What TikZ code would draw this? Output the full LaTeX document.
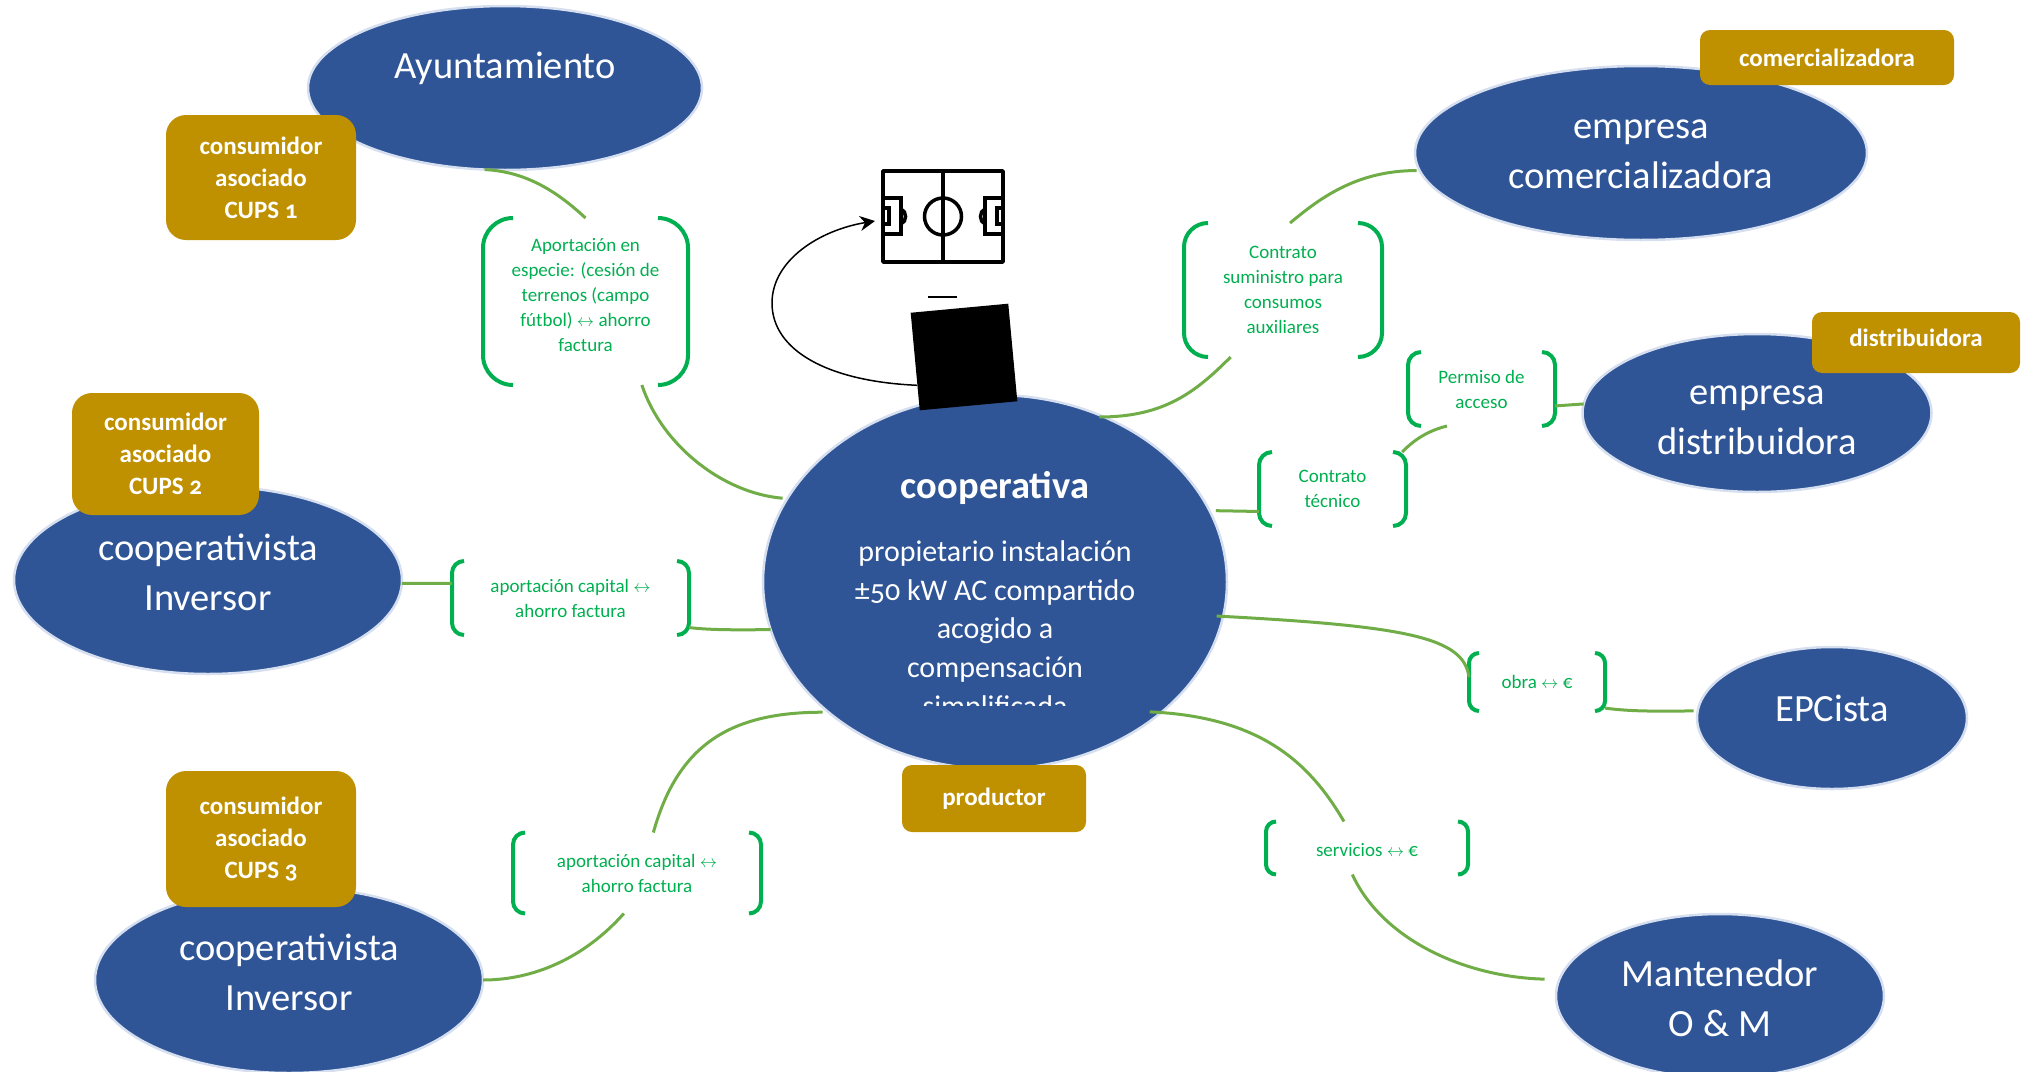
\documentclass[tikz,border=0pt]{standalone}
\usepackage{fontspec}
\setmainfont[Numbers=OldStyle]{Carlito}
\usetikzlibrary{shapes.geometric,arrows.meta}

\definecolor{bubbleblue}{HTML}{2F5597}
\definecolor{bubbleedge}{HTML}{D6DFF0}
\definecolor{gold}{HTML}{BF9000}
\definecolor{bracketgreen}{HTML}{00B050}
\definecolor{linkgreen}{HTML}{70AD47}

\tikzset{
bubble/.style={ellipse,fill=bubbleblue,draw=bubbleedge,line width=2.5pt,inner sep=0pt,outer sep=0pt},
bubbletext/.style={text=white,align=center,font=\fontsize{38.5}{50}\selectfont},
tagbox/.style={fill=gold,text=white,align=center,rounded corners=#1,inner sep=0pt,font=\fontsize{25}{32}\selectfont\bfseries},
deal/.style={fill=white,text=bracketgreen,align=center,inner sep=0pt,outer sep=0pt,font=\fontsize{19}{25}\selectfont},
drop/.style={execute at begin node={\rule{0pt}{#1}}},
rise/.style={execute at end node={\rule[-#1]{0pt}{0pt}}},
bracket/.style={draw=bracketgreen,line width=4pt},
link/.style={draw=linkgreen,line width=3pt},
pitch/.style={line width=3.5pt}
}

\newcommand{\dealbrackets}[2]{
\draw[bracket,rounded corners=#2] ([xshift=#2]#1.north west) -- (#1.north west) -- (#1.south west) -- ([xshift=#2]#1.south west);
\draw[bracket,rounded corners=#2] ([xshift=-#2]#1.north east) -- (#1.north east) -- (#1.south east) -- ([xshift=-#2]#1.south east);
}

\begin{document}
\begin{tikzpicture}[x=1pt,y=-1pt]
\useasboundingbox (0,0) rectangle (2029,1071);

\node[bubble,minimum width=394pt,minimum height=164pt] (ayto) at (505,88) {};
\node[bubble,minimum width=452pt,minimum height=174pt] (comer) at (1641,153) {};
\node[bubble,minimum width=349pt,minimum height=158pt] (distri) at (1757,413) {};
\node[bubble,minimum width=270pt,minimum height=142pt] (epc) at (1832,718) {};
\node[bubble,minimum width=328pt,minimum height=164pt] (mante) at (1720,996) {};
\node[bubble,minimum width=388pt,minimum height=188pt] (socio1) at (208,580) {};
\node[bubble,minimum width=388pt,minimum height=186pt] (socio2) at (289,980) {};
\node[bubble,minimum width=464pt,minimum height=374pt] (coop) at (995,582) {};

\node[bubbletext] (aytotxt) at ([yshift=20pt]ayto.center) {Ayuntamiento};
\node[bubbletext] (comertxt) at ([yshift=-1pt]comer.center) {empresa\\comercializadora};
\node[bubbletext] (distritxt) at ([yshift=-7pt]distri.center) {empresa\\distribuidora};
\node[bubbletext] (epctxt) at ([yshift=10pt]epc.center) {EPCista};
\node[bubbletext] (mantetxt) at ([yshift=-2pt]mante.center) {Mantenedor\\O \& M};
\node[bubbletext] (socio1txt) at ([yshift=8pt]socio1.center) {cooperativista\\Inversor};
\node[bubbletext] (socio2txt) at ([yshift=8pt]socio2.center) {cooperativista\\Inversor};

\node[text=white,font=\fontsize{38.5}{44}\selectfont\bfseries] (cooptitle) at (995,488) {cooperativa};
\begin{scope}
\clip (800,520) rectangle (1200,705);
\node[text=white,align=center,font=\fontsize{30}{38.7}\selectfont,anchor=north] (cooptxt) at (995,537) {propietario instalación\\±50 kW AC compartido\\acogido a\\compensación\\simplificada};
\end{scope}

\node[deal,rise=13pt,minimum width=205pt,minimum height=167pt] (especie) at (585.5,301.5) {Aportación en\\especie: (cesión de\\terrenos (campo\\fútbol) $\leftrightarrow$ ahorro\\factura};
\node[deal,drop=20pt,minimum width=198pt,minimum height=134pt] (suministro) at (1283,290) {Contrato\\suministro para\\consumos\\auxiliares};
\node[deal,drop=21pt,minimum width=147pt,minimum height=74pt] (permiso) at (1481.5,389) {Permiso de\\acceso};
\node[deal,drop=23pt,minimum width=147pt,minimum height=74pt] (tecnico) at (1332.5,489) {Contrato\\técnico};
\node[deal,drop=23pt,minimum width=237pt,minimum height=74pt] (capital1) at (570.5,598) {aportación capital $\leftrightarrow$\\ahorro factura};
\node[deal,minimum width=136pt,minimum height=58pt] (obra) at (1537,682) {obra $\leftrightarrow$ €};
\node[deal,drop=18pt,minimum width=202pt,minimum height=53pt] (servicios) at (1367,848) {servicios $\leftrightarrow$ €};
\node[deal,drop=20pt,minimum width=248pt,minimum height=81pt] (capital2) at (637,873) {aportación capital $\leftrightarrow$\\ahorro factura};

\dealbrackets{especie}{30pt}
\dealbrackets{suministro}{24pt}
\dealbrackets{permiso}{13pt}
\dealbrackets{tecnico}{13pt}
\dealbrackets{capital1}{12pt}
\dealbrackets{obra}{10pt}
\dealbrackets{servicios}{10pt}
\dealbrackets{capital2}{12pt}

\draw[link] (ayto.256.8) .. controls +(40,2) and +(-30,-28) .. (especie.north);
\draw[link] (especie.304.2) .. controls +(20,60) and +(-60,-5) .. ([xshift=-5pt]coop.158.4);
\draw[link] ([xshift=-2pt,yshift=-2pt]comer.184.6) .. controls +(-60,0) and +(30,-25) .. (suministro.84);
\draw[link] (suministro.232.7) .. controls +(-35,35) and +(65,0) .. ([yshift=-2pt]coop.58);
\draw[link] (tecnico.197.4) -- ([xshift=4pt,yshift=5pt]coop.17.3);
\draw[link] (permiso.347) -- (distri.177.4);
\draw[link] (tecnico.28) .. controls +(12,-12) and +(-20,5) .. (permiso.227);
\draw[link] ([xshift=-6pt,yshift=2pt]coop.351.3) .. controls +(190,10) and +(-5,-40) .. (obra.176.6);
\draw[link] (obra.339) .. controls +(30,4) and +(-30,0) .. ([xshift=-4pt]epc.177.5);
\draw[link] ([xshift=-6pt,yshift=5pt]coop.320.4) .. controls +(110,5) and +(-35,-60) .. (servicios.131.5);
\draw[link] (servicios.241) .. controls +(30,65) and +(-80,-2) .. ([xshift=-15pt]mante.174.3);
\draw[link] (socio1.359.4) -- (capital1.173.7);
\draw[link] (capital1.346.6) .. controls +(25,3) and +(-25,0) .. (coop.192);
\draw[link] (capital2.68.2) .. controls +(25,-90) and +(-90,0) .. ([yshift=-5pt]coop.216.7);
\draw[link] (capital2.252.4) .. controls +(-40,45) and +(50,0) .. (socio2.0.6);

\node[tagbox=20pt,drop=27pt,minimum width=190pt,minimum height=125pt] (cups1) at (261,177.5) {consumidor\\asociado\\CUPS 1};
\node[tagbox=20pt,drop=29pt,minimum width=187pt,minimum height=122pt] (cups2) at (165.5,454) {consumidor\\asociado\\CUPS 2};
\node[tagbox=20pt,minimum width=190pt,minimum height=136pt] (cups3) at (261,839) {consumidor\\asociado\\CUPS 3};
\node[tagbox=10pt,minimum width=184pt,minimum height=67pt] (productor) at (994,798.5) {productor};
\node[tagbox=10pt,minimum width=254pt,minimum height=55pt] (comertag) at (1827,57.5) {comercializadora};
\node[tagbox=10pt,rise=10pt,minimum width=208pt,minimum height=61pt] (distritag) at (1916,342.5) {distribuidora};

\node[fill=black,minimum size=98pt,inner sep=0pt,outer sep=0pt,rotate=5.3] (bloque) at (964,357) {};
\draw[line width=1.5pt] (928,297) -- (957,297);

\node[draw,pitch,minimum width=120pt,minimum height=91pt,inner sep=0pt,outer sep=0pt,line join=round] (campo) at (943,216.5) {};
\draw[pitch] (campo.north) -- (campo.south);
\draw[pitch] (campo.center) circle (18.5);
\draw[pitch] (883,198) -- (901,198) -- (901,234) -- (883,234);
\draw[pitch] (883,208) -- (889,208) -- (889,224) -- (883,224);
\draw[pitch] (901,209) .. controls (907,211) and (907,222) .. (901,224);
\draw[pitch] (1003,198) -- (985,198) -- (985,234) -- (1003,234);
\draw[pitch] (1003,208) -- (997,208) -- (997,224) -- (1003,224);
\draw[pitch] (985,209) .. controls (979,211) and (979,222) .. (985,224);

\draw[line width=1.5pt,-{Stealth[length=15pt,width=15pt]}] ([yshift=-6pt]bloque.200) .. controls +(-90,-4) and +(0,47) .. (772,303) .. controls +(0,-43) and +(-55,9) .. ([xshift=-8pt,yshift=-4.5pt]campo.west);

\end{tikzpicture}
\end{document}
